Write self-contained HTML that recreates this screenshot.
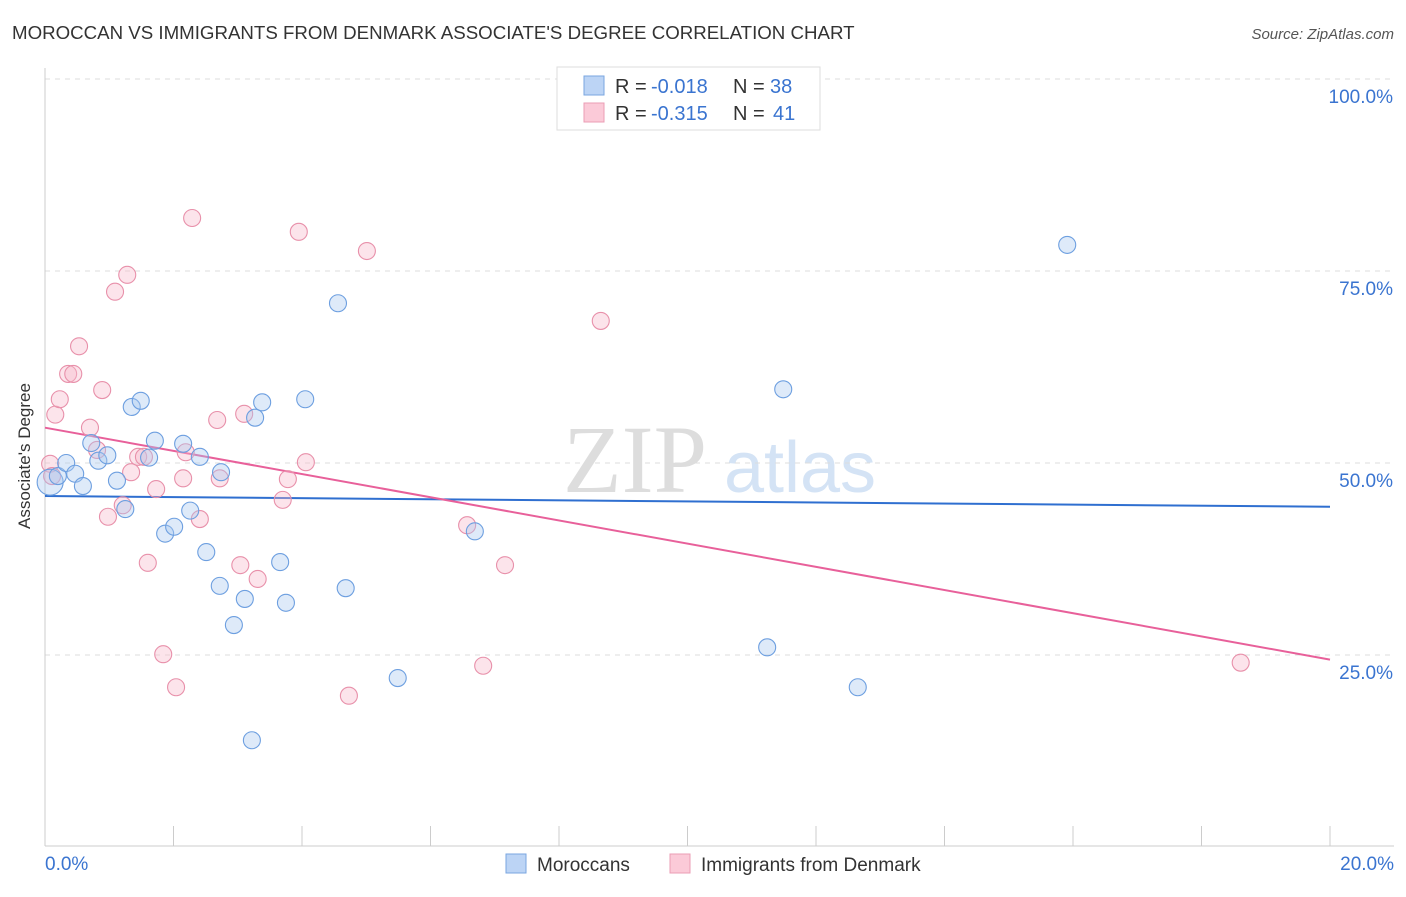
<!DOCTYPE html>
<html><head><meta charset="utf-8"><style>
body{margin:0;background:#fff;font-family:"Liberation Sans",sans-serif;}
svg text{font-family:"Liberation Sans",sans-serif;}
</style></head><body>
<svg id="chart" width="1406" height="892">
<text x="12" y="39" font-size="18.7" fill="#333">MOROCCAN VS IMMIGRANTS FROM DENMARK ASSOCIATE'S DEGREE CORRELATION CHART</text>
<text x="1394" y="39" font-size="15" fill="#555" font-style="italic" text-anchor="end">Source: ZipAtlas.com</text>
<text x="30" y="456" font-size="17" fill="#333" text-anchor="middle" transform="rotate(-90 30 456)">Associate's Degree</text>
<g><text x="635" y="492" font-size="96" fill="#ddd" font-family="Liberation Serif" text-anchor="middle" style="font-family:'Liberation Serif',serif">ZIP</text><text x="800" y="492" font-size="72" fill="#d4e3f5" text-anchor="middle">atlas</text></g>
<g id="grid"></g><g id="trend"></g><g id="pts"></g>
<g>
<rect x="557" y="67" width="263" height="63" fill="#fff" stroke="#ddd"/>
<rect x="584" y="76" width="20" height="19" fill="#bcd4f5" stroke="#7aa6e0"/>
<rect x="584" y="103" width="20" height="19" fill="#fbcad8" stroke="#eb9db5"/>
<text x="615" y="93" font-size="20" fill="#333">R = <tspan x="651" fill="#3a74d0">-0.018</tspan><tspan x="733">N = </tspan><tspan x="770" fill="#3a74d0">38</tspan></text>
<text x="615" y="120" font-size="20" fill="#333">R = <tspan x="651" fill="#3a74d0">-0.315</tspan><tspan x="733">N = </tspan><tspan x="773" fill="#3a74d0">41</tspan></text>
</g>
<g>
<rect x="506" y="854" width="20" height="19" fill="#bcd4f5" stroke="#7aa6e0"/>
<text x="537" y="871" font-size="19" fill="#333">Moroccans</text>
<rect x="670" y="854" width="20" height="19" fill="#fbcad8" stroke="#eb9db5"/>
<text x="701" y="871" font-size="19" fill="#333">Immigrants from Denmark</text>
</g>
</svg>
<script>
const blueX=[0.08,0.20,0.33,0.47,0.59,0.72,0.83,0.97,1.12,1.25,1.35,1.49,1.62,1.71,1.87,2.01,2.15,2.26,2.41,2.51,2.72,2.74,2.94,3.11,3.27,3.38,3.22,3.66,3.75,4.05,4.56,4.68,5.49,6.69,11.24,11.49,12.65,15.91];
const blueY=[47.5,48.3,50.0,48.6,47.0,52.6,50.3,51.0,47.7,44.0,57.3,58.1,50.7,52.9,40.8,41.7,52.5,43.8,50.8,38.4,34.0,48.8,28.9,32.3,55.9,57.9,13.9,37.1,31.8,58.3,70.8,33.7,22.0,41.1,26.0,59.6,20.8,78.4];
const pinkX=[0.08,0.16,0.23,0.36,0.44,0.53,0.70,0.81,0.89,0.98,1.09,1.21,1.28,1.34,1.45,1.54,1.60,1.73,1.84,2.04,2.15,2.19,2.29,2.41,2.68,2.72,3.04,3.10,3.31,3.70,3.78,3.95,4.06,4.73,5.01,6.57,6.82,7.16,8.65,18.61,0.11];
const pinkY=[49.9,56.3,58.3,61.6,61.6,65.2,54.6,51.7,59.5,43.0,72.3,44.5,74.5,48.8,50.8,50.8,37.0,46.6,25.1,20.8,48.0,51.4,81.9,42.7,55.6,48.0,36.7,56.4,34.9,45.2,47.9,80.1,50.1,19.7,77.6,41.9,23.6,36.7,68.5,24.0,48.3];
const trendX=[0,20];
const blueTrend=[45.7,44.3];
const pinkTrend=[54.6,24.4];
const yTicks=[25,50,75,100];
const xTicks=[0,2,4,6,8,10,12,14,16,18,20];
const NS="http://www.w3.org/2000/svg";
const sx=v=>45+v*64.25, sy=v=>847-v*7.68;
function mk(t,a,p){const e=document.createElementNS(NS,t);for(const k in a)e.setAttribute(k,a[k]);p.appendChild(e);return e;}
const grid=document.getElementById('grid');
yTicks.forEach(v=>{
 const l=mk('line',{x1:45,x2:1394,y1:sy(v),y2:sy(v),stroke:'#ddd','stroke-dasharray':'5,5'},grid);
 
 
 const t=mk('text',{x:1393,y:sy(v)+24,'font-size':19,fill:'#3a74d0','text-anchor':'end'},grid);t.textContent=v.toFixed(1)+'%';
 
 
});
mk('line',{x1:45,x2:45,y1:68,y2:846,stroke:'#ccc'},grid);
mk('line',{x1:45,x2:1394,y1:846,y2:846,stroke:'#ccc'},grid);
xTicks.forEach(v=>{const l=mk('line',{x1:sx(v),x2:sx(v),y1:826,y2:846,stroke:'#ccc'},grid);
 
 });
[[0,'0.0%','start',45],[20,'20.0%','end',1394]].forEach(a=>{const t=mk('text',{x:a[3],y:870,'font-size':19,fill:'#3a74d0','text-anchor':a[2]},grid);t.textContent=a[1];
 
 });
const tr=document.getElementById('trend');
const pts=document.getElementById('pts');
function series(X,Y,fill,stroke,name){X.forEach((x,i)=>{const c=mk('circle',{cx:sx(x),cy:sy(Y[i]),r:(name=='blue'&&i==0)?13:8.5,fill:fill,'fill-opacity':0.38,stroke:stroke,'stroke-width':1.1},pts);
 
 });}
series(pinkX,pinkY,'#f8b8cb','#e890aa','denmark');
series(blueX,blueY,'#a9c7f0','#6d9fe0','blue');
const l1=mk('line',{x1:sx(trendX[0]),y1:sy(blueTrend[0]),x2:sx(trendX[1]),y2:sy(blueTrend[1]),stroke:'#2f6fd0','stroke-width':2},tr);


const l2=mk('line',{x1:sx(trendX[0]),y1:sy(pinkTrend[0]),x2:sx(trendX[1]),y2:sy(pinkTrend[1]),stroke:'#e8609a','stroke-width':2},tr);


</script>
</body></html>
